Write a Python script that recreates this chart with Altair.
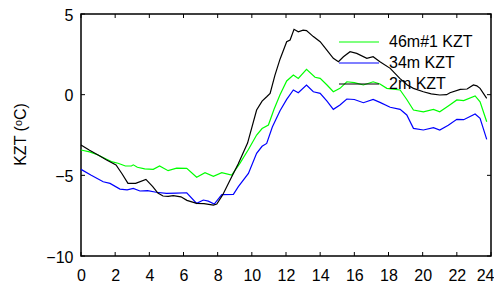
import altair as alt
import pandas as pd

# ---- data ----
series_names = ["46m#1 KZT", "34m KZT", "2m KZT"]
series_colors = ["#00ff00", "#0000ff", "#000000"]

hours_46 = [0.0, 0.5, 1.0, 1.5, 1.78, 2.17, 2.6, 2.95, 3.06, 3.3, 3.73, 4.23, 4.6, 5.1, 5.6,
            6.19, 6.77, 7.26, 7.75, 8.24, 8.82, 9.3, 9.8, 10.28, 10.6, 10.97, 11.3, 11.65,
            12.04, 12.43, 12.72, 13.2, 13.7, 14.0, 14.4, 14.77, 15.16, 15.56, 16.0, 16.53,
            17.1, 17.5, 17.9, 18.68, 19.07, 19.46, 20.04, 20.63, 21.0, 21.5, 22.0, 22.4,
            23.07, 23.36, 23.75]
kzt_46 = [-3.43, -3.55, -3.74, -4.0, -4.15, -4.25, -4.42, -4.42, -4.35, -4.5, -4.6, -4.63,
          -4.42, -4.71, -4.55, -4.57, -5.12, -4.84, -5.06, -4.83, -4.98, -4.26, -3.4, -2.5,
          -2.1, -1.88, -0.9, 0.0, 0.85, 1.22, 1.01, 1.57, 1.08, 1.01, 0.6, 0.18, 0.39, 0.8,
          0.75, 0.6, 0.8, 0.66, 0.39, 0.29, -0.3, -0.95, -1.06, -0.91, -1.06, -0.7, -0.33,
          -0.37, -0.08, -0.44, -1.68]

hours_34 = [0.0, 0.6, 1.3, 1.7, 2.28, 2.7, 3.06, 3.45, 3.9, 4.4, 5.0, 5.6, 6.19, 6.77, 7.16,
            7.45, 7.8, 8.24, 8.92, 9.21, 9.8, 10.28, 10.6, 10.87, 11.2, 11.65, 12.04, 12.43,
            12.72, 13.2, 13.6, 14.0, 14.4, 14.77, 15.16, 15.56, 16.0, 16.53, 17.1, 17.5,
            18.1, 18.68, 19.07, 19.46, 20.04, 20.63, 21.0, 21.5, 22.0, 22.4, 23.07, 23.36,
            23.75]
kzt_34 = [-4.63, -5.0, -5.4, -5.5, -5.85, -5.9, -5.81, -5.97, -5.95, -6.05, -6.12, -6.1,
          -6.08, -6.74, -6.53, -6.6, -6.78, -6.2, -6.18, -5.7, -4.88, -3.64, -3.2, -3.02,
          -2.0, -1.0, -0.29, 0.29, 0.12, 0.6, 0.18, 0.08, -0.4, -0.91, -0.64, -0.27, -0.3,
          -0.5, -0.29, -0.48, -0.78, -0.91, -1.26, -2.09, -2.19, -2.05, -2.19, -1.9, -1.53,
          -1.55, -1.2, -1.47, -2.77]

hours_2 = [0.0, 0.5, 1.0, 1.5, 2.05, 2.4, 2.75, 3.2, 3.8, 4.2, 4.5, 4.8, 5.1, 5.4, 5.85,
           6.2, 6.77, 7.2, 7.75, 7.95, 8.3, 8.72, 9.2, 9.75, 10.28, 10.6, 10.87, 11.07,
           11.35, 11.65, 12.04, 12.24, 12.47, 12.72, 13.0, 13.2, 13.6, 14.0, 14.38, 14.77,
           15.07, 15.36, 15.75, 16.14, 16.73, 17.1, 17.5, 18.1, 18.66, 19.1, 19.46, 20.04,
           20.5, 21.0, 21.4, 21.6, 22.2, 22.6, 22.97, 23.17, 23.36, 23.75]
kzt_2 = [-3.12, -3.45, -3.74, -4.05, -4.36, -4.9, -5.5, -5.5, -5.25, -5.7, -6.1, -6.28,
         -6.3, -6.26, -6.33, -6.55, -6.74, -6.75, -6.84, -6.78, -6.2, -5.3, -4.3, -3.0,
         -0.95, -0.4, -0.13, 0.08, 1.2, 2.2, 3.28, 3.39, 4.05, 3.9, 4.0, 3.97, 3.6, 3.28,
         2.77, 2.25, 2.04, 2.35, 2.66, 2.56, 2.25, 2.35, 2.04, 1.63, 1.01, 0.6, 0.39, 0.18,
         0.05, -0.02, 0.0, 0.12, 0.33, 0.35, 0.6, 0.55, 0.39, -0.23]

x_ticks = list(range(0, 25, 2))
y_ticks = [-10, -5, 0, 5]
y_title = "KZT (\u1d52C)"

# ---- build table ----
rows = []
for name, hs, vs in [(series_names[0], hours_46, kzt_46),
                     (series_names[1], hours_34, kzt_34),
                     (series_names[2], hours_2, kzt_2)]:
    for h, v in zip(hs, vs):
        rows.append({"hour": h, "kzt": v, "series": name})
df = pd.DataFrame(rows)

W, H = 410, 242
FONT = "Liberation Sans"
xs = alt.Scale(domain=[0, 24], nice=False, zero=False)
ys = alt.Scale(domain=[-10, 5], nice=False, zero=False)

x_axis = alt.Axis(values=x_ticks, ticks=False, domain=False, grid=False,
                  labelPadding=11, title=None, labelFontSize=16,
                  labelFont=FONT, labelColor="black", labelFlush=False,
                  labelAlign=alt.expr("datum.value >= 24 ? 'right' : 'center'"),
                  labelOffset=alt.expr("datum.value >= 24 ? 3 : 0"))
y_axis = alt.Axis(values=y_ticks, ticks=False, domain=False, grid=False,
                  labelPadding=8, labelOffset=1, title=y_title, labelFontSize=16,
                  labelFont=FONT, labelColor="black", titleFont=FONT,
                  titleFontSize=16, titleFontWeight="normal", titleColor="black",
                  titleX=-61, titleY=120, titleAlign="center",
                  titleBaseline="middle", titleAngle=270, labelFlush=False)
xenc = alt.X("hour:Q", scale=xs, axis=x_axis)
yenc = alt.Y("kzt:Q", scale=ys, axis=y_axis)

lines = alt.Chart(df).mark_line(strokeWidth=1.2).encode(
    x=xenc,
    y=yenc,
    color=alt.Color("series:N",
                    scale=alt.Scale(domain=series_names, range=series_colors),
                    sort=series_names,
                    legend=alt.Legend(orient="none", legendX=257, legendY=20, title=None,
                                      symbolType="stroke", symbolSize=1600,
                                      symbolStrokeWidth=1.2, labelFontSize=16,
                                      labelFont=FONT, labelColor="black",
                                      rowPadding=5, clipHeight=16, labelOffset=9,
                                      padding=0)),
)

xt = pd.DataFrame({"hour": x_ticks})
yt = pd.DataFrame({"kzt": y_ticks})
tick_bottom = alt.Chart(xt).mark_rule(color="black", strokeWidth=1).encode(
    x=xenc, y=alt.value(H), y2=alt.value(H - 4))
tick_top = alt.Chart(xt).mark_rule(color="black", strokeWidth=1).encode(
    x=xenc, y=alt.value(0), y2=alt.value(4))
tick_left = alt.Chart(yt).mark_rule(color="black", strokeWidth=1).encode(
    y=yenc, x=alt.value(0), x2=alt.value(4))
tick_right = alt.Chart(yt).mark_rule(color="black", strokeWidth=1).encode(
    y=yenc, x=alt.value(W), x2=alt.value(W - 4))

chart = alt.layer(lines, tick_bottom, tick_top, tick_left, tick_right).properties(
    width=W, height=H,
    background="white",
    autosize=alt.AutoSizeParams(type="none"),
    padding={"left": 73, "top": 6, "right": 3, "bottom": 30},
).configure_view(stroke="black", strokeWidth=1.5)

chart.save("out.html", embed_options={"renderer": "svg", "actions": False})
